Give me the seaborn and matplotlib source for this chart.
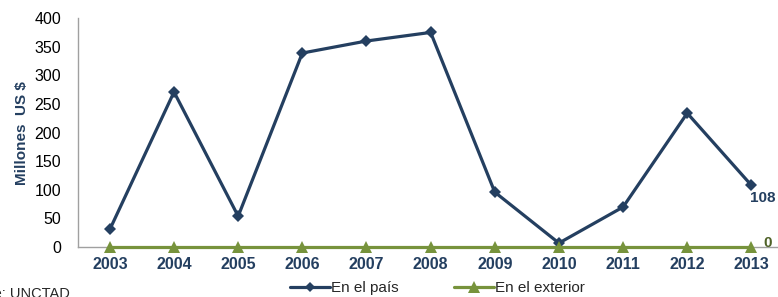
import pandas as pd
import seaborn as sns
import matplotlib.pyplot as plt

years = ["2003", "2004", "2005", "2006", "2007", "2008", "2009", "2010", "2011", "2012", "2013"]
en_el_pais = [31, 271, 54, 339, 360, 375, 96, 7, 70, 234, 108]
en_el_exterior = [0, 0, 0, 0, 0, 0, 0, 0, 0, 0, 0]

df = pd.DataFrame({
    "year": years * 2,
    "value": en_el_pais + en_el_exterior,
    "serie": ["En el país"] * len(years) + ["En el exterior"] * len(years),
})

sns.set_style("white")
plt.rcParams["font.family"] = ["Liberation Sans", "DejaVu Sans"]

navy = "#243F60"
green = "#77933C"

fig = plt.figure(figsize=(7.78, 2.97), dpi=100)
ax = fig.add_axes([0.100, 0.168, 0.907, 0.771])

sns.lineplot(
    data=df, x="year", y="value", hue="serie", style="serie",
    palette={"En el país": navy, "En el exterior": green},
    markers={"En el país": "D", "En el exterior": "^"},
    dashes=False, linewidth=2.3, markersize=6, markeredgewidth=0,
    sort=False, ax=ax,
)
for line in ax.lines:
    line.set_clip_on(False)
ax.lines[1].set_markersize(8)
ax.lines[1].set_zorder(5)

ax.set_xlim(-0.5, 10.5)
ax.set_ylim(0, 400)
ax.set_yticks(range(0, 401, 50))
ax.set_xlabel("")
ax.set_ylabel("Millones  US $", color=navy, fontsize=11, fontweight="bold", labelpad=4)
ax.tick_params(axis="y", labelsize=11.5, colors="black", length=0, pad=12)
ax.tick_params(axis="x", labelsize=11.5, length=0, pad=7)
for lab in ax.get_xticklabels():
    lab.set_color(navy)
    lab.set_fontweight("bold")

for side in ["top", "right"]:
    ax.spines[side].set_visible(False)
for side in ["left", "bottom"]:
    ax.spines[side].set_color("#A0A0A0")
    ax.spines[side].set_linewidth(1)

ax.annotate(str(en_el_pais[-1]), (10, en_el_pais[-1]), xytext=(-1, -12),
            textcoords="offset points", color=navy, fontsize=11, fontweight="bold")
ax.annotate(str(en_el_exterior[-1]), (10, en_el_exterior[-1]), xytext=(9, 0),
            textcoords="offset points", color="#4F6228", fontsize=11, fontweight="bold")

handles, labels = ax.get_legend_handles_labels()
for h in handles:
    h.set_linewidth(2.3)
handles[0].set_markersize(5)
handles[1].set_markersize(8)
ax.legend(handles, labels, loc="center", bbox_to_anchor=(0.51, -0.178),
          ncol=2, frameon=False, fontsize=11, handlelength=2.6,
          handletextpad=0.1, columnspacing=3.6, borderaxespad=0)

fig.text(0.09, -0.012, "Fuente: UNCTAD", ha="right", va="bottom", fontsize=10.5)

fig.savefig("out.png", dpi=100)
